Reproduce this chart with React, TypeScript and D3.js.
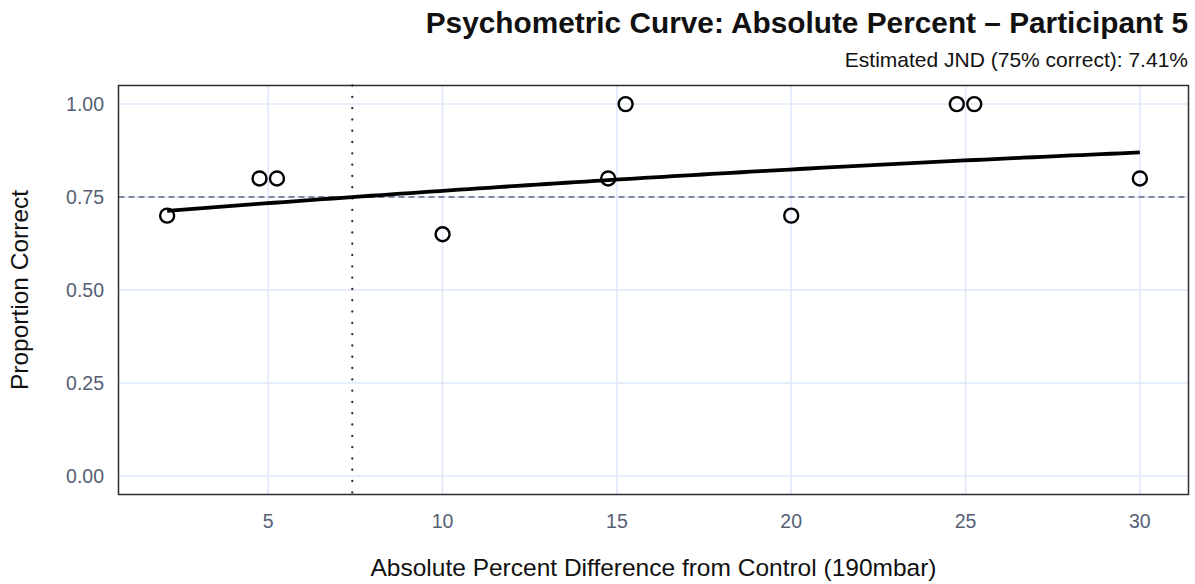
import React from "react";
import * as d3 from "d3";

// Observed proportion correct at each stimulus level (x dodged where levels overlap)
const stimulusLevels = [2.1, 4.75, 5.25, 10, 14.75, 15.25, 20, 24.75, 25.25, 30];
const proportionCorrect = [0.7, 0.8, 0.8, 0.65, 0.8, 1.0, 0.7, 1.0, 1.0, 0.8];

// Logistic fit: p = 1 / (1 + exp(-(intercept + slope * x)))
const fitIntercept = 0.835;
const fitSlope = 0.0355;
const fitRange = [2.1, 30];
const jnd = 7.41;
const criterion = 0.75;

const xTicks = [5, 10, 15, 20, 25, 30];
const yTicks = [0, 0.25, 0.5, 0.75, 1.0];

const W = 1195;
const H = 584;
const plot = { left: 118.5, right: 1188.5, top: 85.5, bottom: 494.5 };

export default function App() {
  const xMin = 2.1;
  const xMax = 30;
  const xPad = (xMax - xMin) * 0.05;
  const x = d3
    .scaleLinear()
    .domain([xMin - xPad, xMax + xPad])
    .range([plot.left, plot.right]);
  const y = d3.scaleLinear().domain([-0.05, 1.05]).range([plot.bottom, plot.top]);

  const logistic = (v: number) => 1 / (1 + Math.exp(-(fitIntercept + fitSlope * v)));
  const curveXs = d3.range(0, 101).map((i) => fitRange[0] + ((fitRange[1] - fitRange[0]) * i) / 100);
  const line = d3
    .line<number>()
    .x((v) => x(v))
    .y((v) => y(logistic(v)));

  const font = "'Liberation Sans', Arial, Helvetica, sans-serif";
  const tickColor = "#555f75";
  const gridColor = "#dfe8fa";

  return (
    <svg
      width={W}
      height={H}
      style={{ position: "absolute", left: 0, top: 0, background: "#fff" }}
      fontFamily={font}
    >
      {/* grid */}
      {xTicks.map((t) => (
        <line key={"gx" + t} x1={x(t)} x2={x(t)} y1={plot.top} y2={plot.bottom} stroke={gridColor} strokeWidth={1.5} />
      ))}
      {yTicks.map((t) => (
        <line key={"gy" + t} x1={plot.left} x2={plot.right} y1={y(t)} y2={y(t)} stroke={gridColor} strokeWidth={1.5} />
      ))}

      {/* criterion and threshold reference lines */}
      <line
        x1={plot.left}
        x2={plot.right}
        y1={y(criterion)}
        y2={y(criterion)}
        stroke="#5c6883"
        strokeWidth={1.4}
        strokeDasharray="6 4"
      />
      <line
        x1={x(jnd)}
        x2={x(jnd)}
        y1={plot.top}
        y2={plot.bottom}
        stroke="#2a2a3a"
        strokeWidth={2.3}
        strokeDasharray="0.1 11.2"
        strokeLinecap="round"
      />

      {/* fitted curve */}
      <path d={line(curveXs) ?? ""} fill="none" stroke="#000" strokeWidth={3.8} />

      {/* observed points */}
      {stimulusLevels.map((v, i) => (
        <circle
          key={"p" + i}
          cx={x(v)}
          cy={y(proportionCorrect[i])}
          r={7}
          fill="none"
          stroke="#000"
          strokeWidth={2.4}
        />
      ))}

      {/* panel border */}
      <rect
        x={plot.left}
        y={plot.top}
        width={plot.right - plot.left}
        height={plot.bottom - plot.top}
        fill="none"
        stroke="#2b2b33"
        strokeWidth={1.5}
      />

      {/* tick labels */}
      {xTicks.map((t) => (
        <text key={"tx" + t} x={x(t)} y={528} textAnchor="middle" fontSize={19.5} fill={tickColor}>
          {t}
        </text>
      ))}
      {yTicks.map((t) => (
        <text key={"ty" + t} x={104} y={y(t) + 7} textAnchor="end" fontSize={19.5} fill={tickColor}>
          {t.toFixed(2)}
        </text>
      ))}

      {/* axis titles */}
      <text x={(plot.left + plot.right) / 2} y={576} textAnchor="middle" fontSize={24.5} fill="#111">
        Absolute Percent Difference from Control (190mbar)
      </text>
      <text
        transform={`translate(28,${(plot.top + plot.bottom) / 2}) rotate(-90)`}
        textAnchor="middle"
        fontSize={24.5}
        fill="#111"
      >
        Proportion Correct
      </text>

      {/* title and subtitle */}
      <text x={1188} y={33} textAnchor="end" fontSize={29.8} fontWeight="bold" fill="#111">
        Psychometric Curve: Absolute Percent – Participant 5
      </text>
      <text x={1188} y={67} textAnchor="end" fontSize={21} fill="#111">
        Estimated JND (75% correct): {jnd.toFixed(2)}%
      </text>
    </svg>
  );
}
